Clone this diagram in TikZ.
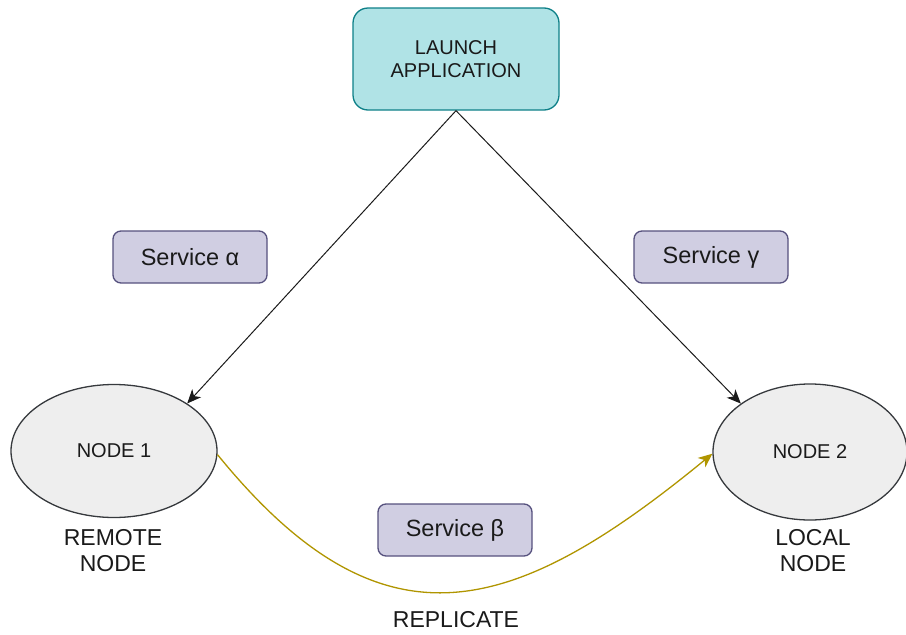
\documentclass[tikz,border=0pt]{standalone}
\usepackage{fontspec}
\setmainfont{Liberation Sans}
\usetikzlibrary{shapes.geometric,arrows.meta}
\definecolor{tealfill}{HTML}{B0E3E6}
\definecolor{tealline}{HTML}{0E8088}
\definecolor{purfill}{HTML}{D0CEE2}
\definecolor{purline}{HTML}{56517E}
\definecolor{grayfill}{HTML}{EEEEEE}
\definecolor{grayline}{HTML}{36393D}
\definecolor{goldline}{HTML}{B09500}
\definecolor{ink}{HTML}{1A1A1A}
\tikzset{
  launchbox/.style={draw=tealline, fill=tealfill, line width=1.3pt, rounded corners=15pt,
    minimum width=206pt, minimum height=102pt, align=center, text=ink,
    font=\fontsize{20}{23}\selectfont},
  servicebox/.style={draw=purline, fill=purfill, line width=1.3pt, rounded corners=8pt,
    minimum width=154pt, minimum height=52pt, text=ink,
    font=\fontsize{23.5}{26}\selectfont},
  hostnode/.style={ellipse, draw=grayline, fill=grayfill, line width=1.3pt, inner sep=0pt,
    text=ink, font=\fontsize{20}{23}\selectfont},
  caption/.style={align=center, text=ink, inner sep=0pt, font=\fontsize{23}{26}\selectfont},
  callarrow/.style={draw=ink, line width=1pt, -{Stealth[length=14pt,width=12pt,inset=4pt]}},
  replarrow/.style={draw=goldline, line width=1.3pt, -{Stealth[length=14pt,width=12pt,inset=4pt]}}
}
\begin{document}
\begin{tikzpicture}[x=1pt, y=-1pt]
  \useasboundingbox (0,0) rectangle (906,635);

  % application launcher
  \node[launchbox] (launch) at (456,59) {LAUNCH\\APPLICATION};

  % service labels
  \node[servicebox] (svca) at (190,257) {Service α};
  \node[servicebox] (svcg) at (711,257) {Service γ};
  \node[servicebox] (svcb) at (455,530) {Service β};

  % the two hosts
  \node[hostnode, minimum width=206pt, minimum height=133pt] (n1) at (114,451) {NODE 1};
  \node[hostnode, minimum width=194pt, minimum height=136pt] (n2) at (810,452) {NODE 2};

  % host captions
  \node[caption] (remote) at (113,551) {REMOTE\\NODE};
  \node[caption] (local) at (813,551) {LOCAL\\NODE};
  \node[caption] (repl) at (456,620) {REPLICATE};

  % launch connections
  \draw[callarrow] (launch.south) -- (n1.33);
  \draw[callarrow] (launch.south) -- (n2.145);

  % replication from node 1 to node 2
  \draw[replarrow] (n1.-2) .. controls +(165,203) and +(-200,164) .. (n2.181);
\end{tikzpicture}
\end{document}
